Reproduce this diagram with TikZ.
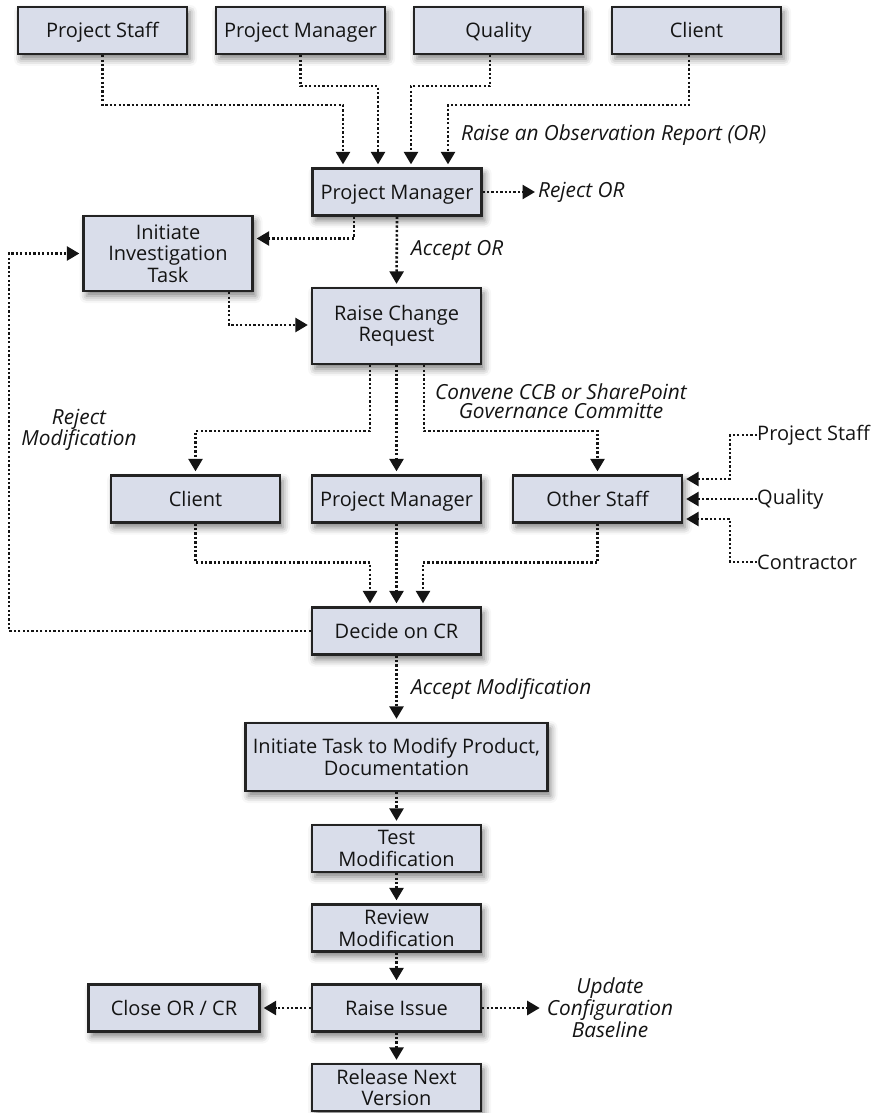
\documentclass[tikz,border=0pt]{standalone}
\usepackage{fontspec}
\setmainfont{Open Sans}
\usetikzlibrary{arrows.meta,shadows.blur}

\definecolor{boxfill}{RGB}{217,221,234}
\definecolor{boxline}{RGB}{35,35,35}
\definecolor{ink}{RGB}{20,20,20}

% fixed line height above and depth below so captions sit centred in the boxes
\newcommand{\captop}{\rule{0pt}{19.3pt}}
\newcommand{\capbot}{\rule[-5pt]{0pt}{5pt}}
\newcommand{\multitop}{\rule{0pt}{20.3pt}}

\begin{document}
\begin{tikzpicture}[x=1pt,y=-1pt,
  boxbase/.style={draw=boxline, line width=2.3pt, fill=boxfill,
    minimum width=169pt, minimum height=47pt, inner sep=0pt, align=center,
    text=ink, font=\fontsize{20}{21.5}\selectfont,
    blur shadow={shadow xshift=3pt, shadow yshift=-5pt, shadow blur radius=7pt, shadow opacity=50}},
  stepbox/.style={boxbase, execute at begin node=\captop, execute at end node=\capbot},
  multibox/.style={boxbase, execute at begin node=\multitop},
  lbl/.style={inner sep=0pt, text=ink, align=center, font=\fontsize{20.8}{21}\selectfont\itshape},
  plain/.style={inner sep=0pt, text=ink, font=\fontsize{20}{21.5}\selectfont},
  flow/.style={draw=ink, line width=2.6pt, dash pattern=on 2.3pt off 2.1pt,
    -{Triangle[width=14pt,length=12.5pt]}, shorten >=3pt}
]
\useasboundingbox (0,0) rectangle (875,1113);

% observation sources
\node[stepbox] (ps1) at (102.5,30.5) {Project Staff};
\node[stepbox] (pm1) at (300.5,30.5) {Project Manager};
\node[stepbox] (q1)  at (498.5,30.5) {Quality};
\node[stepbox] (c1)  at (696.5,30.5) {Client};

% observation review and change request
\node[stepbox] (pm2) at (397,192) {Project Manager};
\node[multibox, minimum height=75pt] (inv) at (168,253.5) {Initiate\\Investigation\\Task};
\node[multibox, minimum height=76pt] (rcr) at (396.5,326) {Raise Change\\Request};

% change control board
\node[stepbox] (cl2) at (195.5,499) {Client};
\node[stepbox] (pm3) at (396.5,499) {Project Manager};
\node[stepbox] (os)  at (597.5,499) {Other Staff};
\node[plain, anchor=west] (ps2) at (757,435) {Project Staff};
\node[plain, anchor=west] (q2)  at (757,499) {Quality};
\node[plain, anchor=west] (con) at (757,562) {Contractor};

% decision and implementation
\node[stepbox] (dec) at (396.5,631) {Decide on CR};
\node[multibox, minimum width=302pt, minimum height=68pt] (itm) at (396.5,757) {Initiate Task to Modify Product,\\Documentation};
\node[multibox] (tst) at (396.5,848.5) {Test\\Modification};
\node[multibox] (rev) at (396.5,928) {Review\\Modification};
\node[stepbox] (iss) at (396.5,1008) {Raise Issue};
\node[stepbox, minimum width=171pt] (cls) at (174,1008) {Close OR / CR};
\node[multibox] (rel) at (396.5,1087.5) {Release Next\\Version};

% labels
\node[lbl, anchor=west] (lor) at (461,135) {Raise an Observation Report (OR)};
\node[lbl, anchor=west] (rejor) at (538,192) {Reject OR};
\node[lbl, anchor=west] (accor) at (411,250) {Accept OR};
\node[lbl, font=\fontsize{20.8}{19}\selectfont\itshape] (conv) at (561,401) {Convene CCB or SharePoint\\Governance Committe};
\node[lbl] (rejmod) at (79,430) {Reject\\Modification};
\node[lbl, anchor=west] (accmod) at (411,689) {Accept Modification};
\node[lbl, font=\fontsize{20.8}{20.5}\selectfont\itshape] (upd) at (610,1008) {Update\\Configuration\\Baseline};

% sources to project manager
\draw[flow] (ps1.south) -- ++(0,50) -| ([xshift=-54pt]pm2.north);
\draw[flow] (pm1.south) -- ++(0,31) -| ([xshift=-19pt]pm2.north);
\draw[flow] ([xshift=-8.5pt]q1.south) -- ++(0,31) -| ([xshift=14pt]pm2.north);
\draw[flow] ([xshift=-7.5pt]c1.south) -- ++(0,50) -| ([xshift=51pt]pm2.north);

% project manager outcomes
\draw[flow] (pm2.east) -- (rejor.west);
\draw[flow] ([xshift=-43pt]pm2.south) |- ([yshift=15pt]inv.east);
\draw[flow] (pm2.south) -- (rcr.north);
\draw[flow] ([xshift=61pt]inv.south) |- ([yshift=1pt]rcr.west);

% change request to reviewers
\draw[flow] ([xshift=-26.5pt]rcr.south) -- ++(0,66) -| (cl2.north);
\draw[flow] (rcr.south) -- (pm3.north);
\draw[flow] ([xshift=27.5pt]rcr.south) -- ++(0,66) -| (os.north);

% other staff inputs
\draw[flow] (ps2.west) -- ++(-27,0) |- ([yshift=20pt]os.east);
\draw[flow] (q2.west) -- (os.east);
\draw[flow] (con.west) -- ++(-27,0) |- ([yshift=-20pt]os.east);

% reviewers to decision
\draw[flow] (cl2.south) -- ++(0,39) -| ([xshift=-26.5pt]dec.north);
\draw[flow] (pm3.south) -- (dec.north);
\draw[flow] (os.south) -- ++(0,39) -| ([xshift=26.5pt]dec.north);

% rejected modification loops back
\draw[flow] (dec.west) -- ++(-302,0) |- (inv.west);

% implementation chain
\draw[flow] (dec.south) -- (itm.north);
\draw[flow] (itm.south) -- (tst.north);
\draw[flow] (tst.south) -- (rev.north);
\draw[flow] (rev.south) -- (iss.north);
\draw[flow] (iss.south) -- (rel.north);
\draw[flow] (iss.west) -- (cls.east);
\draw[flow] (iss.east) -- ([xshift=-4pt]upd.west |- iss.east);
\end{tikzpicture}
\end{document}
